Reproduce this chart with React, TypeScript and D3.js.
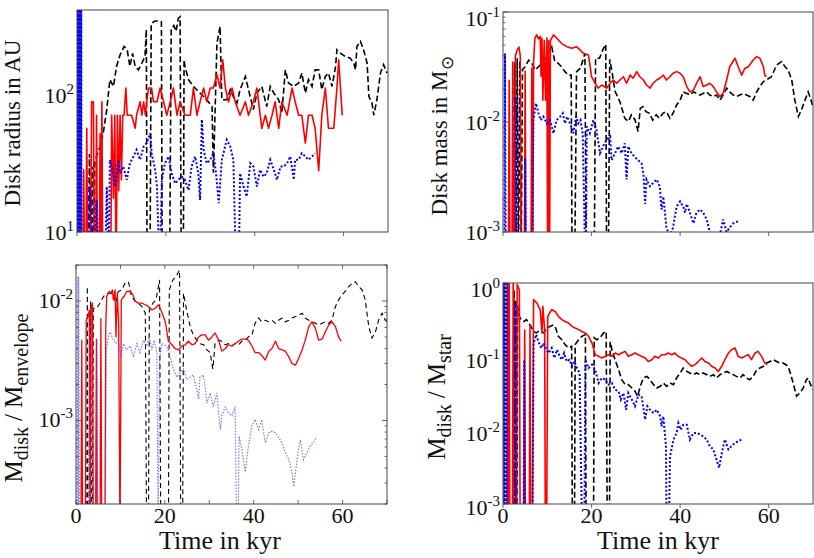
import React, { useRef, useEffect } from 'react';
import * as d3 from 'd3';

type Pt = [number, number];

// time in kyr, value on the panel's y unit

// --- disk radius in AU ---
const radiusBlack: Pt[] = [
  [2.5, 5], [2.8, 37], [3.1, 5], [3.4, 30], [3.7, 5], [4.0, 32], [4.4, 35.5], [5.2, 42], [5.9, 52.5],
  [6.7, 78], [7.4, 129], [8.2, 115], [8.9, 161], [9.7, 196], [10.6, 225], [11.3, 213], [11.9, 161],
  [12.5, 200], [13.1, 161], [13.8, 152], [14.6, 170], [15.3, 190], [15.6, 300], [15.8, 3], [16.4, 3],
  [16.7, 330], [17.5, 345], [18.5, 345], [19.0, 340], [19.2, 3], [20.8, 3], [21.2, 300], [21.8, 320],
  [22.3, 290], [22.8, 360], [23.2, 370], [23.5, 3], [23.9, 3], [24.1, 180], [24.3, 161], [25.1, 129],
  [26.2, 115], [27.7, 103], [29.2, 92], [30.4, 82], [30.7, 27], [31.5, 238], [32.2, 315], [32.6, 92],
  [33.7, 92], [34.5, 109], [35.2, 97], [36.0, 87], [36.7, 109], [37.9, 136], [38.6, 109], [39.7, 78],
  [40.5, 103], [41.6, 115], [42.7, 82], [43.5, 115], [44.3, 103], [45.4, 92], [46.1, 73.5], [46.9, 152],
  [47.6, 122], [48.8, 115], [49.9, 122], [50.6, 144], [51.4, 103], [52.1, 129], [52.9, 115], [53.6, 152],
  [54.4, 152], [55.1, 109], [55.9, 136], [56.6, 144], [57.4, 115], [58.2, 161], [58.5, 213], [59.3, 201],
  [60.4, 190], [61.5, 185], [62.3, 170], [62.7, 152], [63.0, 225], [63.8, 245], [64.5, 213], [65.3, 170],
  [65.7, 97], [66.4, 87], [66.8, 71], [67.5, 92], [68.3, 144], [69.0, 166], [69.8, 144],
];
const radiusRed: Pt[] = [
  [1.3, 5], [1.5, 28.4], [1.7, 5], [2.0, 5], [2.2, 57], [2.4, 5], [3.0, 5], [3.3, 89], [3.7, 89], [3.9, 5],
  [4.2, 5], [4.4, 71], [4.6, 5], [5.0, 5], [5.2, 52], [5.4, 5], [5.6, 89], [5.8, 5], [7.6, 5], [7.8, 71],
  [8.2, 17.6], [8.5, 71], [8.8, 5], [9.1, 71], [9.4, 20], [9.7, 71], [10.0, 24], [10.3, 71], [10.6, 71],
  [11.0, 112], [11.3, 71], [12.3, 71], [13.1, 57], [13.4, 71], [14.2, 89], [14.6, 71], [15.0, 89],
  [15.4, 71], [15.7, 89], [16.1, 112], [16.8, 112], [17.2, 89], [18.0, 89], [18.7, 112], [19.5, 89],
  [20.2, 71], [21.0, 89], [21.7, 112], [22.5, 71], [23.2, 89], [24.3, 71], [25.5, 71], [26.2, 112],
  [27.0, 71], [27.7, 89], [28.5, 112], [29.2, 89], [30.0, 112], [30.7, 112], [31.5, 140], [32.2, 112],
  [32.8, 180], [33.4, 112], [34.1, 89], [34.9, 112], [35.6, 89], [36.7, 71], [37.9, 89], [38.6, 71],
  [39.7, 89], [40.5, 112], [41.6, 57], [42.4, 71], [43.1, 57], [43.9, 71], [44.6, 89], [45.4, 57],
  [46.1, 89], [47.3, 71], [48.4, 112], [49.1, 89], [49.9, 71], [50.6, 71], [51.4, 44.5], [52.1, 71],
  [52.9, 71], [53.6, 57], [54.4, 28], [55.1, 71], [55.9, 112], [56.6, 57], [57.8, 57], [58.5, 112],
  [58.9, 180], [59.7, 71],
];
const radiusBlue: Pt[] = [
  [0.05, 2], [0.15, 900], [0.25, 2], [0.35, 900], [0.45, 2], [0.55, 900], [0.65, 2], [0.75, 900],
  [0.85, 2], [0.95, 900], [1.05, 2],
  [2.5, 5], [2.9, 21.4], [3.7, 5], [4.4, 17.1], [5.0, 5], [6.3, 5], [6.7, 21.4], [7.1, 5], [7.4, 33.6],
  [8.2, 26.8], [8.6, 21.4], [9.3, 33.6], [9.7, 26.8], [10.4, 30], [11.2, 24], [11.9, 31.7], [12.7, 35.5],
  [13.4, 39.7], [14.2, 33.6], [15.0, 42], [15.7, 44.5], [16.5, 52.5], [16.8, 37.5], [17.6, 28.4],
  [18.0, 21.4], [18.6, 5], [19.1, 24], [19.8, 31.7], [20.6, 35.5], [21.3, 26.8], [22.1, 22.6], [22.8, 24],
  [23.6, 25.3], [24.3, 24], [25.1, 20.2], [25.8, 30], [26.6, 35.5], [27.3, 26.8], [27.7, 17.1], [28.1, 66],
  [28.5, 39.7], [29.2, 31.7], [30.0, 33.6], [30.7, 37.5], [31.3, 26.8], [31.9, 16.2], [32.6, 33.6],
  [33.7, 47], [34.5, 42], [35.2, 33.6], [35.8, 5], [36.4, 5], [36.7, 26.8], [37.5, 21.4], [38.2, 18.1],
  [39.0, 31.7], [39.7, 30], [40.5, 21.4], [41.2, 28.4], [42.0, 25.3], [42.7, 26.8], [43.5, 33.6],
  [44.3, 28.4], [45.0, 24], [45.8, 30], [46.5, 30], [47.3, 31.7], [48.0, 35.5], [48.8, 24], [49.1, 33.6],
  [49.9, 33.6], [50.6, 37.5], [51.4, 35.5], [52.1, 33.6], [52.9, 35.5], [53.6, 37.5],
];

// --- disk mass in Msun ---
const massBlack: Pt[] = [
  [2.3, 0.0005], [2.6, 0.035], [2.9, 0.0005], [3.2, 0.038], [3.5, 0.0005], [3.8, 0.036], [4.1, 0.0005],
  [4.4, 0.03], [5.0, 0.0318], [5.8, 0.0366], [6.5, 0.0341], [7.3, 0.0297], [8.0, 0.0318], [8.8, 0.0341],
  [9.5, 0.038], [10.2, 0.0436], [11.0, 0.0484], [11.7, 0.0354], [12.5, 0.0341], [13.2, 0.0318],
  [14.0, 0.0287], [14.7, 0.0267], [15.4, 0.0267], [15.6, 0.0005], [16.2, 0.0005], [16.6, 0.0286],
  [17.5, 0.031], [18.5, 0.042], [18.8, 0.0005], [20.6, 0.0005], [20.9, 0.038], [21.8, 0.038], [22.6, 0.046],
  [23.2, 0.0508], [23.4, 0.0005], [23.8, 0.0005], [24.1, 0.037], [24.6, 0.029], [25.3, 0.019],
  [26.4, 0.0153], [27.5, 0.0108], [28.3, 0.0101], [29.0, 0.0116], [29.8, 0.0105], [30.5, 0.0082],
  [31.0, 0.0133], [31.6, 0.0138], [32.3, 0.0124], [33.1, 0.012], [33.8, 0.0104], [34.6, 0.0116],
  [35.3, 0.0108], [36.1, 0.012], [36.9, 0.0124], [37.7, 0.0108], [38.4, 0.012], [39.2, 0.0143],
  [40.0, 0.0158], [40.7, 0.0188], [41.5, 0.0182], [42.2, 0.0176], [43.0, 0.0188], [43.7, 0.0182],
  [44.5, 0.0176], [45.2, 0.0182], [46.0, 0.0188], [46.7, 0.0176], [47.5, 0.017], [48.2, 0.0176],
  [49.0, 0.0158], [49.7, 0.0176], [50.5, 0.0203], [51.2, 0.0188], [52.0, 0.0176], [52.7, 0.017],
  [53.5, 0.0176], [54.3, 0.0182], [55.0, 0.0176], [55.8, 0.017], [56.5, 0.0158], [57.3, 0.0188],
  [58.0, 0.021], [58.8, 0.0233], [59.5, 0.0241], [60.6, 0.0258], [61.8, 0.033], [62.9, 0.0354],
  [63.7, 0.0318], [64.4, 0.0297], [65.2, 0.0241], [65.9, 0.0158], [66.7, 0.0112], [67.4, 0.0129],
  [68.2, 0.0158], [68.9, 0.0188], [69.3, 0.017], [70.0, 0.0138],
];
const massRed: Pt[] = [
  [1.2, 0.0003], [1.4, 0.024], [1.6, 0.0003], [2.0, 0.0003], [2.2, 0.035], [2.4, 0.0003], [2.6, 0.0003],
  [2.8, 0.04], [3.2, 0.045], [3.6, 0.048], [3.9, 0.04], [4.1, 0.0003], [4.8, 0.0003], [5.0, 0.029],
  [5.2, 0.0003], [6.3, 0.0003], [6.5, 0.031], [6.7, 0.0003], [6.9, 0.035], [7.2, 0.058], [7.6, 0.062],
  [8.0, 0.057], [8.4, 0.06], [8.6, 0.026], [8.8, 0.058], [9.0, 0.0158], [9.3, 0.055], [9.6, 0.0158],
  [9.9, 0.058], [10.1, 0.0003], [10.3, 0.055], [10.5, 0.0003], [10.7, 0.055], [11.4, 0.062], [12.1, 0.058],
  [13.2, 0.0519], [14.4, 0.0484], [15.5, 0.0468], [16.6, 0.0484], [17.4, 0.0452], [18.1, 0.0421],
  [19.3, 0.0407], [20.0, 0.0258], [20.8, 0.0225], [21.5, 0.0203], [22.3, 0.0217], [23.4, 0.0203],
  [24.2, 0.0225], [24.9, 0.0241], [25.7, 0.0225], [26.4, 0.0241], [27.2, 0.0258], [27.9, 0.0225],
  [28.7, 0.0267], [29.4, 0.025], [30.2, 0.0287], [30.9, 0.0258], [31.7, 0.0241], [32.4, 0.0217],
  [33.2, 0.0203], [33.9, 0.0225], [34.7, 0.0241], [35.4, 0.025], [36.2, 0.0267], [36.9, 0.0241],
  [37.7, 0.0258], [38.4, 0.0277], [39.2, 0.0287], [40.0, 0.0277], [40.7, 0.0258], [41.5, 0.021],
  [42.2, 0.0188], [43.0, 0.0195], [43.7, 0.0225], [44.5, 0.0258], [45.2, 0.021], [46.0, 0.0217],
  [46.7, 0.0225], [47.5, 0.021], [48.2, 0.0188], [49.0, 0.017], [49.7, 0.0182], [50.5, 0.0241],
  [51.2, 0.0318], [52.4, 0.038], [53.1, 0.0318], [53.9, 0.0267], [54.6, 0.0307], [55.4, 0.0318],
  [56.5, 0.0366], [57.3, 0.0393], [58.0, 0.038], [58.8, 0.0318], [59.1, 0.0267], [59.5, 0.0258],
];
const massBlue: Pt[] = [
  [0.3, 0.0003], [0.45, 0.042], [0.65, 0.0003], [2.8, 0.0003], [2.95, 0.017], [3.2, 0.0003], [4.9, 0.0003],
  [5.0, 0.0047], [5.2, 0.0003], [6.6, 0.0003], [6.85, 0.0104], [7.45, 0.0148], [8.0, 0.012], [8.5, 0.0104],
  [9.1, 0.0112], [9.9, 0.0097], [10.6, 0.0104], [11.4, 0.0079], [12.1, 0.0104], [12.9, 0.0112],
  [13.5, 0.012], [14.0, 0.0097], [14.5, 0.0112], [15.1, 0.0097], [15.7, 0.0085], [15.9, 0.0079],
  [16.5, 0.0112], [17.0, 0.0097], [17.5, 0.0104], [18.0, 0.0079], [18.7, 0.0003], [18.9, 0.0091],
  [19.6, 0.0079], [20.4, 0.0104], [21.1, 0.0085], [21.9, 0.0052], [22.6, 0.006], [23.4, 0.0069],
  [24.2, 0.0074], [24.5, 0.0045], [25.3, 0.0052], [26.0, 0.006], [26.8, 0.0052], [27.5, 0.0064],
  [27.9, 0.003], [28.3, 0.006], [29.0, 0.0052], [29.8, 0.0048], [30.5, 0.0045], [31.3, 0.0042],
  [31.7, 0.0034], [32.1, 0.0018], [32.4, 0.003], [33.2, 0.0026], [33.9, 0.0028], [34.7, 0.003],
  [35.4, 0.0026], [35.8, 0.0016], [36.2, 0.0021], [36.9, 0.0011], [37.7, 0.0009], [38.4, 0.0011],
  [39.2, 0.0017], [40.0, 0.0019], [40.7, 0.0017], [41.1, 0.0015], [41.5, 0.0018], [42.2, 0.0015],
  [43.0, 0.0012], [43.7, 0.0015], [44.5, 0.0016], [45.2, 0.0015], [46.0, 0.0013], [46.7, 0.001],
  [47.5, 0.0009], [48.2, 0.0008], [49.0, 0.00095], [49.7, 0.0013], [50.5, 0.001], [51.2, 0.0011],
  [52.0, 0.0012], [53.1, 0.00125],
];

// --- Mdisk / Menvelope ---
const envBlack: Pt[] = [
  [2.4, 0.0001], [2.55, 0.0132], [2.7, 0.0001], [3.1, 0.0001], [3.3, 0.01], [3.5, 0.0001], [3.7, 0.0001],
  [3.9, 0.0087], [4.7, 0.0087], [5.4, 0.0096], [6.2, 0.0109], [6.9, 0.0116], [7.7, 0.0116], [8.4, 0.0113],
  [9.0, 0.0096], [9.5, 0.012], [10.3, 0.0124], [11.0, 0.014], [11.8, 0.0145], [12.5, 0.0109], [13.3, 0.01],
  [14.0, 0.0096], [14.8, 0.009], [15.6, 0.0079], [15.9, 0.0001], [16.3, 0.0001], [16.5, 0.0084],
  [17.3, 0.0096], [18.0, 0.0102], [18.8, 0.015], [19.1, 0.0001], [20.8, 0.0001], [21.0, 0.0124],
  [21.8, 0.015], [22.7, 0.0165], [23.3, 0.0181], [23.6, 0.0001], [24.0, 0.0001], [24.2, 0.0116],
  [24.9, 0.0084], [25.7, 0.0061], [26.4, 0.0052], [27.2, 0.0047], [27.9, 0.0044], [28.7, 0.0043],
  [29.5, 0.0039], [30.2, 0.0037], [30.8, 0.0027], [31.3, 0.0044], [32.1, 0.0047], [32.8, 0.0046],
  [33.6, 0.0043], [34.3, 0.0044], [35.1, 0.0042], [35.8, 0.0044], [36.6, 0.0043], [37.3, 0.0046],
  [38.1, 0.0047], [38.8, 0.005], [39.6, 0.0052], [40.3, 0.0065], [41.1, 0.0072], [41.8, 0.0067],
  [42.6, 0.0069], [43.4, 0.0067], [44.1, 0.0069], [44.9, 0.0065], [45.6, 0.0069], [46.4, 0.0072],
  [47.1, 0.0067], [47.9, 0.0069], [48.6, 0.0072], [49.4, 0.0074], [50.1, 0.0076], [50.9, 0.0079],
  [51.6, 0.0072], [52.4, 0.0069], [53.1, 0.0067], [53.9, 0.0065], [54.6, 0.0063], [55.4, 0.0065],
  [56.1, 0.0067], [56.9, 0.0065], [57.6, 0.0069], [58.4, 0.009], [59.1, 0.0102], [59.9, 0.0113],
  [60.6, 0.012], [61.4, 0.0132], [62.1, 0.014], [62.9, 0.0145], [63.6, 0.0132], [64.4, 0.0124],
  [65.1, 0.0102], [65.9, 0.0061], [66.6, 0.0049], [67.4, 0.0055], [68.1, 0.0069], [68.9, 0.0079],
  [69.6, 0.0069], [70.0, 0.0067],
];
const envRed: Pt[] = [
  [1.1, 0.0001], [1.3, 0.0047], [1.5, 0.0001], [2.1, 0.0001], [2.3, 0.0069], [2.7, 0.0074], [3.0, 0.0084],
  [3.2, 0.0001], [3.4, 0.009], [3.7, 0.0096], [3.9, 0.0001], [4.4, 0.0001], [4.6, 0.0048], [4.8, 0.0001],
  [5.4, 0.0001], [5.6, 0.0071], [5.8, 0.0001], [6.5, 0.0001], [6.7, 0.0061], [6.9, 0.0109], [7.5, 0.012],
  [7.9, 0.0116], [8.2, 0.0124], [8.4, 0.0102], [8.8, 0.0124], [9.0, 0.005], [9.3, 0.0116], [9.6, 0.0065],
  [9.9, 0.0001], [10.2, 0.0102], [10.8, 0.0109], [11.4, 0.012], [12.2, 0.012], [12.8, 0.0113],
  [13.3, 0.01], [14.0, 0.0096], [14.8, 0.0096], [15.6, 0.0093], [16.3, 0.009], [17.1, 0.0084],
  [17.8, 0.0087], [18.6, 0.0093], [19.3, 0.0081], [20.1, 0.0067], [20.8, 0.0046], [21.6, 0.0043],
  [22.3, 0.004], [23.1, 0.0039], [23.8, 0.0042], [24.6, 0.0043], [25.3, 0.0046], [26.1, 0.0043],
  [26.8, 0.0044], [27.6, 0.005], [28.3, 0.0052], [29.1, 0.0052], [29.8, 0.0047], [30.6, 0.005],
  [31.3, 0.0054], [32.1, 0.0047], [32.8, 0.0038], [33.6, 0.004], [34.3, 0.0043], [35.1, 0.0042],
  [35.8, 0.0044], [36.6, 0.0046], [37.3, 0.0048], [38.1, 0.0048], [38.8, 0.0047], [39.6, 0.0042],
  [40.3, 0.0037], [41.1, 0.0037], [41.8, 0.0035], [42.6, 0.0032], [43.4, 0.0038], [44.1, 0.004],
  [44.9, 0.0046], [45.6, 0.004], [46.4, 0.0039], [47.1, 0.0038], [47.9, 0.0034], [48.6, 0.003],
  [49.4, 0.0029], [50.1, 0.0033], [50.9, 0.0039], [51.6, 0.0047], [52.4, 0.0061], [53.1, 0.0067],
  [53.9, 0.0059], [54.6, 0.0047], [55.4, 0.0048], [56.1, 0.0055], [56.9, 0.0063], [57.6, 0.0067],
  [58.4, 0.0061], [59.1, 0.005], [59.7, 0.0046],
];
const envBlue: Pt[] = [
  [0.2, 0.0001], [0.4, 0.016], [0.5, 0.0001], [0.6, 0.016], [0.8, 0.0001], [2.8, 0.0001], [3.0, 0.0065],
  [3.2, 0.0001], [4.5, 0.0001], [4.7, 0.0047], [4.9, 0.0001], [6.6, 0.0001], [6.8, 0.0039], [7.3, 0.005],
  [7.7, 0.0055], [8.4, 0.0047], [9.0, 0.0044], [9.5, 0.0047], [10.1, 0.0034], [10.7, 0.0044],
  [11.4, 0.0039], [12.2, 0.0042], [12.9, 0.0034], [13.7, 0.0044], [14.4, 0.0037], [15.2, 0.0047],
  [15.9, 0.0042], [16.5, 0.005], [17.1, 0.0039], [17.6, 0.0047], [18.2, 0.0037], [18.5, 0.0001],
  [18.8, 0.0032], [19.3, 0.0044], [20.4, 0.0042], [21.2, 0.0034], [21.9, 0.0027], [22.7, 0.0023],
  [23.4, 0.0025], [24.2, 0.0027], [24.9, 0.0022], [25.7, 0.0023], [26.4, 0.0024], [27.2, 0.0018],
  [27.6, 0.0015], [27.9, 0.0023], [28.7, 0.0024], [29.5, 0.0014], [30.2, 0.0017], [30.9, 0.0013],
  [31.7, 0.0017], [32.1, 0.00116], [32.5, 0.00084], [32.8, 0.0011], [33.6, 0.0013], [34.3, 0.00116],
  [35.1, 0.0011], [35.8, 0.0013], [36.2, 0.0001], [36.5, 0.0001], [36.7, 0.00074], [37.3, 0.00058],
  [38.1, 0.00037], [38.8, 0.00061], [39.6, 0.0009], [40.3, 0.00102], [41.1, 0.00084], [41.8, 0.00102],
  [42.6, 0.00065], [43.4, 0.00079], [44.1, 0.00081], [44.9, 0.00079], [45.6, 0.00072], [46.4, 0.00065],
  [47.1, 0.00054], [47.9, 0.00047], [48.6, 0.00037], [49.0, 0.00028], [49.6, 0.00042], [50.1, 0.00058],
  [50.5, 0.00069], [51.2, 0.00047], [52.0, 0.00054], [52.7, 0.00061], [53.5, 0.00066], [54.1, 0.00072],
];

// --- Mdisk / Mstar ---
const starBlack: Pt[] = [
  [2.3, 0.0001], [2.5, 0.8], [2.7, 0.0001], [2.9, 0.6], [3.1, 0.0001], [3.3, 0.5], [3.5, 0.37],
  [4.1, 0.318], [4.7, 0.3], [5.3, 0.318], [5.8, 0.286], [6.3, 0.258], [6.9, 0.22], [7.5, 0.21], [8.0, 0.22],
  [8.6, 0.22], [9.2, 0.21], [9.9, 0.245], [10.7, 0.258], [11.4, 0.27], [11.9, 0.245], [12.5, 0.189],
  [13.3, 0.17], [14.0, 0.146], [14.8, 0.131], [15.5, 0.138], [15.7, 0.0001], [16.1, 0.0001], [16.3, 0.146],
  [17.1, 0.17], [17.8, 0.189], [18.6, 0.2], [18.8, 0.0001], [20.4, 0.0001], [20.6, 0.18], [21.2, 0.17],
  [21.9, 0.18], [22.7, 0.21], [23.3, 0.22], [23.6, 0.0001], [24.0, 0.0001], [24.2, 0.16], [24.6, 0.124],
  [25.3, 0.091], [26.1, 0.0666], [26.8, 0.0487], [27.6, 0.0417], [28.3, 0.0417], [29.1, 0.0376],
  [29.8, 0.034], [30.4, 0.029], [31.0, 0.0396], [31.7, 0.0513], [32.5, 0.054], [33.2, 0.0487],
  [34.0, 0.0417], [34.7, 0.0376], [35.5, 0.0396], [36.2, 0.0439], [37.0, 0.0396], [37.7, 0.0439],
  [38.5, 0.0417], [39.2, 0.0513], [40.0, 0.06], [40.7, 0.07], [41.5, 0.063], [42.2, 0.06], [43.0, 0.057],
  [43.7, 0.06], [44.5, 0.057], [45.2, 0.06], [46.0, 0.057], [46.7, 0.054], [47.5, 0.057], [48.2, 0.0513],
  [49.0, 0.057], [49.7, 0.06], [50.5, 0.063], [51.2, 0.06], [52.0, 0.057], [52.7, 0.054], [53.5, 0.0513],
  [54.2, 0.057], [55.0, 0.0513], [55.7, 0.0487], [56.5, 0.054], [57.3, 0.0666], [58.0, 0.07],
  [58.8, 0.074], [59.5, 0.082], [60.3, 0.086], [61.0, 0.091], [61.8, 0.086], [62.5, 0.082], [63.3, 0.082],
  [64.4, 0.074], [65.1, 0.054], [66.3, 0.029], [67.0, 0.032], [67.8, 0.0376], [68.5, 0.0487],
  [68.9, 0.0513], [69.3, 0.0439], [70.0, 0.0356],
];
const starRed: Pt[] = [
  [0.9, 0.0001], [1.0, 2], [1.15, 0.0001], [1.4, 2], [1.55, 0.0001], [2.1, 0.0001], [2.3, 1.2],
  [2.5, 0.0001], [3.0, 0.0001], [3.2, 0.95], [3.5, 0.86], [3.7, 0.8], [3.9, 0.0001], [4.6, 0.0001],
  [4.9, 0.23], [5.1, 0.0001], [5.9, 0.0001], [6.1, 0.26], [6.3, 0.0001], [6.6, 0.0001], [6.9, 0.594],
  [7.3, 0.56], [7.7, 0.535], [8.0, 0.482], [8.4, 0.434], [8.8, 0.21], [9.0, 0.482], [9.4, 0.233],
  [9.6, 0.0001], [9.8, 0.0001], [10.1, 0.353], [10.7, 0.41], [11.0, 0.434], [11.8, 0.41], [12.5, 0.353],
  [13.3, 0.318], [14.0, 0.3], [14.8, 0.286], [15.6, 0.258], [16.3, 0.245], [17.1, 0.233], [17.8, 0.22],
  [18.6, 0.21], [19.3, 0.189], [20.1, 0.153], [20.8, 0.106], [21.6, 0.101], [22.3, 0.096], [23.1, 0.101],
  [23.8, 0.106], [24.6, 0.101], [25.3, 0.112], [26.1, 0.106], [26.8, 0.112], [27.6, 0.118], [28.3, 0.101],
  [29.1, 0.106], [29.8, 0.112], [30.6, 0.106], [31.3, 0.101], [32.1, 0.096], [32.8, 0.086], [33.6, 0.091],
  [34.3, 0.101], [35.1, 0.096], [35.8, 0.106], [36.6, 0.106], [37.3, 0.112], [38.1, 0.106], [38.8, 0.112],
  [39.6, 0.101], [40.3, 0.096], [41.1, 0.091], [41.8, 0.082], [42.6, 0.074], [43.4, 0.078], [44.1, 0.086],
  [44.9, 0.096], [45.6, 0.086], [46.4, 0.082], [47.1, 0.074], [47.9, 0.07], [48.6, 0.063], [49.4, 0.074],
  [50.1, 0.091], [50.9, 0.112], [51.6, 0.124], [52.4, 0.131], [53.1, 0.101], [53.9, 0.096], [54.6, 0.101],
  [55.4, 0.106], [56.1, 0.091], [56.9, 0.112], [57.6, 0.118], [58.4, 0.101], [59.1, 0.082], [59.7, 0.078],
];
const starBlue: Pt[] = [
  [0.1, 0.0001], [0.2, 3], [0.3, 0.0001], [0.4, 3], [0.5, 0.0001], [0.6, 3], [0.7, 0.0001], [0.8, 3],
  [0.9, 0.0001], [2.6, 0.0001], [2.8, 0.53], [3.0, 0.0001], [4.6, 0.0001], [4.8, 0.09], [5.0, 0.0001],
  [6.6, 0.0001], [6.9, 0.153], [7.5, 0.2], [8.0, 0.16], [8.6, 0.131], [9.2, 0.153], [9.8, 0.124],
  [10.3, 0.112], [11.0, 0.131], [11.6, 0.096], [12.2, 0.124], [12.8, 0.101], [13.3, 0.091], [13.8, 0.112],
  [14.4, 0.086], [15.0, 0.091], [15.6, 0.074], [16.1, 0.086], [16.7, 0.07], [17.3, 0.06], [18.0, 0.0001],
  [18.3, 0.0001], [18.6, 0.091], [19.3, 0.07], [20.1, 0.078], [20.8, 0.0666], [21.6, 0.0439],
  [22.3, 0.0513], [23.1, 0.0487], [23.8, 0.0417], [24.6, 0.0439], [25.3, 0.0356], [26.1, 0.034],
  [26.6, 0.0261], [27.2, 0.0321], [27.8, 0.019], [28.3, 0.0321], [29.1, 0.0261], [29.8, 0.0212],
  [30.6, 0.0306], [31.3, 0.029], [32.1, 0.014], [32.6, 0.0212], [33.2, 0.019], [34.0, 0.0172],
  [34.7, 0.019], [35.5, 0.0155], [35.8, 0.0113], [36.2, 0.0155], [36.8, 0.0061], [37.0, 0.0001],
  [37.3, 0.0001], [37.7, 0.0044], [38.5, 0.0075], [39.2, 0.0092], [39.6, 0.0125], [40.1, 0.0102],
  [40.7, 0.0119], [41.5, 0.0119], [42.2, 0.0075], [43.0, 0.0092], [43.7, 0.0092], [44.5, 0.0088],
  [45.2, 0.0083], [46.0, 0.0075], [46.7, 0.0061], [47.5, 0.0055], [48.2, 0.004], [48.8, 0.0031],
  [49.4, 0.0049], [50.1, 0.0075], [50.9, 0.0055], [51.6, 0.0061], [52.4, 0.0068], [53.1, 0.0071],
  [53.9, 0.0075],
];

const timeTicks = [0, 20, 40, 60];
const timeTicksFine = [0, 10, 20, 30, 40, 50, 60, 70];

interface PanelCfg {
  left: number;
  top: number;
  right: number;
  bottom: number;
  yDomain: [number, number];
  exps: number[];
  black: Pt[];
  red: Pt[];
  blue: Pt[];
  thin: boolean;
  xLabels: boolean;
  boxTicks: boolean;
  labelShift: number;
  titleX: number;
}

const panels: PanelCfg[] = [
  { left: 77, top: 10, right: 388, bottom: 232, yDomain: [10, 415], exps: [1, 2],
    black: radiusBlack, red: radiusRed, blue: radiusBlue, thin: false, xLabels: false, boxTicks: false,
    labelShift: 1, titleX: 232 },
  { left: 503, top: 12, right: 813, bottom: 232, yDomain: [1e-3, 1e-1], exps: [-1, -2, -3],
    black: massBlack, red: massRed, blue: massBlue, thin: false, xLabels: false, boxTicks: false,
    labelShift: 1, titleX: 658 },
  { left: 76, top: 265, right: 387, bottom: 504, yDomain: [2e-4, 2e-2], exps: [-2, -3],
    black: envBlack, red: envRed, blue: envBlue, thin: true, xLabels: true, boxTicks: true,
    labelShift: 0, titleX: 220 },
  { left: 503, top: 283, right: 813, bottom: 504, yDomain: [1e-3, 1], exps: [0, -1, -2, -3],
    black: starBlack, red: starRed, blue: starBlue, thin: false, xLabels: true, boxTicks: false,
    labelShift: 4, titleX: 658 },
];

const FONT = "'Liberation Serif', 'Times New Roman', serif";
const INK = '#111';

const App: React.FC = () => {
  const svgRef = useRef<SVGSVGElement>(null);

  useEffect(() => {
    const root = d3.select(svgRef.current);
    root.selectAll('*').remove();

    panels.forEach((p, pi) => {
      const g = root.append('g');
      const x = d3.scaleLinear().domain([0, 70]).range([p.left, p.right]);
      const y = d3.scaleLog().domain(p.yDomain).range([p.bottom, p.top]);

      const clipId = `clip-${pi}`;
      g.append('clipPath')
        .attr('id', clipId)
        .append('rect')
        .attr('x', p.left)
        .attr('y', p.top)
        .attr('width', p.right - p.left)
        .attr('height', p.bottom - p.top);

      const line = d3
        .line<Pt>()
        .x((d) => x(d[0]))
        .y((d) => y(d[1]));

      const plot = g.append('g').attr('clip-path', `url(#${clipId})`);

      plot
        .append('path')
        .attr('d', line(p.black))
        .attr('fill', 'none')
        .attr('stroke', '#000')
        .attr('stroke-width', p.thin ? 1.1 : 1.6)
        .attr('stroke-dasharray', p.thin ? '5,3.5' : '6,3');

      plot
        .append('path')
        .attr('d', line(p.red))
        .attr('fill', 'none')
        .attr('stroke', '#ff0000')
        .attr('stroke-width', p.thin ? 1.3 : 1.6)
        .attr('stroke-linejoin', 'round');

      plot
        .append('path')
        .attr('d', line(p.blue))
        .attr('fill', 'none')
        .attr('stroke', p.thin ? '#4a4aff' : '#0000ff')
        .attr('stroke-width', p.thin ? 1.1 : 2)
        .attr('stroke-dasharray', p.thin ? '1.5,1.5' : '2,2')
        .attr('opacity', p.thin ? 0.8 : 1);

      // frame
      g.append('rect')
        .attr('x', p.left)
        .attr('y', p.top)
        .attr('width', p.right - p.left)
        .attr('height', p.bottom - p.top)
        .attr('fill', 'none')
        .attr('stroke', '#444')
        .attr('stroke-width', 1);

      // y ticks (major + minor, inward)
      const minor = y.ticks(10);
      const sides = p.boxTicks ? [p.left, p.right] : [p.left];
      sides.forEach((sx) => {
        const dir = sx === p.left ? 1 : -1;
        minor.forEach((v) => {
          const isMajor = Math.abs(Math.log10(v) - Math.round(Math.log10(v))) < 1e-6;
          g.append('line')
            .attr('x1', sx)
            .attr('x2', sx + dir * (isMajor ? 5 : 2.5))
            .attr('y1', y(v))
            .attr('y2', y(v))
            .attr('stroke', '#444')
            .attr('stroke-width', 0.8);
        });
      });

      // x ticks
      if (p.boxTicks) {
        timeTicksFine.forEach((t) => {
          [p.top, p.bottom].forEach((sy) => {
            const dir = sy === p.top ? 1 : -1;
            g.append('line')
              .attr('x1', x(t))
              .attr('x2', x(t))
              .attr('y1', sy)
              .attr('y2', sy + dir * 4)
              .attr('stroke', '#444')
              .attr('stroke-width', 0.8);
          });
        });
      } else {
        timeTicks.forEach((t) => {
          g.append('line')
            .attr('x1', x(t))
            .attr('x2', x(t))
            .attr('y1', p.bottom)
            .attr('y2', p.bottom + 4)
            .attr('stroke', '#444')
            .attr('stroke-width', 0.8);
        });
      }

      // y tick labels 10^n
      p.exps.forEach((e) => {
        const ty = y(Math.pow(10, e));
        const atTop = Math.abs(ty - p.top) < 1;
        const centre = ty + (atTop ? 7 : p.labelShift);
        const t = g
          .append('text')
          .attr('x', p.left - 3)
          .attr('y', centre + 7)
          .attr('text-anchor', 'end')
          .attr('font-family', FONT)
          .attr('font-size', 22)
          .attr('fill', INK);
        t.append('tspan').text('10');
        t.append('tspan').attr('dy', -9).attr('font-size', 15).text(String(e));
      });

      if (p.xLabels) {
        timeTicks.forEach((tv) => {
          g.append('text')
            .attr('x', x(tv))
            .attr('y', 523)
            .attr('text-anchor', 'middle')
            .attr('font-family', FONT)
            .attr('font-size', 22)
            .attr('fill', INK)
            .text(String(tv));
        });
        g.append('text')
          .attr('x', p.titleX)
          .attr('y', 549)
          .attr('text-anchor', 'middle')
          .attr('font-family', FONT)
          .attr('font-size', 26)
          .attr('fill', INK)
          .text('Time in kyr');
      }
    });

    // y axis titles
    const title = (cx: number, cy: number, size: number) =>
      root
        .append('text')
        .attr('transform', `translate(${cx},${cy}) rotate(-90)`)
        .attr('text-anchor', 'middle')
        .attr('font-family', FONT)
        .attr('font-size', size)
        .attr('fill', INK);

    title(20, 123, 23).text('Disk radius in AU');

    const t2 = title(447, 136, 23);
    t2.append('tspan').text('Disk mass in M');
    t2.append('tspan').attr('dy', 6).attr('font-size', 17).text('\u2299');

    const ratio = (cx: number, cy: number, a: string, b: string) => {
      const t = title(cx, cy, 25);
      t.append('tspan').text('M');
      t.append('tspan').attr('dy', 6).attr('font-size', 20).text(a);
      t.append('tspan').attr('dy', -6).attr('dx', 6).text('/');
      t.append('tspan').attr('dx', 6).text('M');
      t.append('tspan').attr('dy', 6).attr('font-size', 20).text(b);
    };
    ratio(22, 398, 'disk', 'envelope');
    ratio(445, 397, 'disk', 'star');
  }, []);

  return (
    <svg
      ref={svgRef}
      width={814}
      height={558}
      style={{ position: 'absolute', left: 0, top: 0, background: '#fff' }}
    />
  );
};

export default App;
